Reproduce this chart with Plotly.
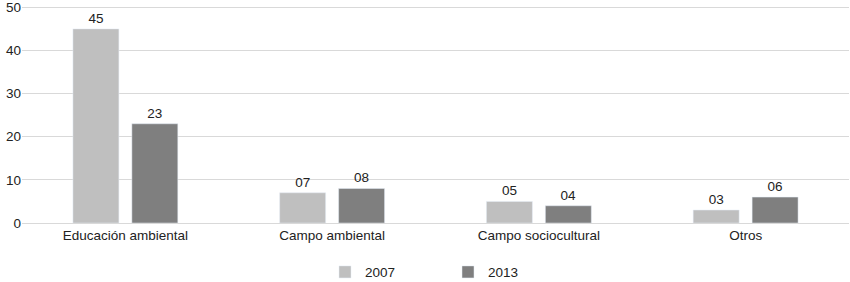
import plotly.graph_objects as go

categories = ["Educación ambiental", "Campo ambiental", "Campo sociocultural", "Otros"]
values_2007 = [45, 7, 5, 3]
values_2013 = [23, 8, 4, 6]
series_names = ["2007", "2013"]
y_ticks = [0, 10, 20, 30, 40, 50]

FONT = "Liberation Sans Narrow, Arial Narrow, Liberation Sans, sans-serif"
TXT = "#222222"
FS = 13.5

fig = go.Figure()
for name, vals, color in [(series_names[0], values_2007, "#bfbfbf"),
                          (series_names[1], values_2013, "#7f7f7f")]:
    fig.add_trace(go.Bar(
        x=categories, y=vals, name=name, marker_color=color,
        text=[f"{v:02d}" for v in vals], textposition="outside",
        textfont=dict(family=FONT, size=FS, color=TXT),
        cliponaxis=False,
    ))

fig.update_layout(
    width=850, height=282,
    margin=dict(l=22, r=1, t=3, b=59, autoexpand=False),
    paper_bgcolor="white", plot_bgcolor="white",
    barmode="group", bargap=0.43, bargroupgap=0.22,
    font=dict(family=FONT, size=FS, color=TXT),
    showlegend=True,
    legend=dict(orientation="h", xref="container", x=325 / 850, xanchor="left",
                yref="container", y=0.035, yanchor="middle",
                entrywidth=78, entrywidthmode="pixels",
                font=dict(family=FONT, size=FS, color=TXT),
                traceorder="normal"),
    xaxis=dict(showgrid=False, showline=True, linecolor="#d9d9d9", linewidth=1,
               tickfont=dict(family=FONT, size=FS, color=TXT)),
    yaxis=dict(range=[0, 51], tickvals=y_ticks, showgrid=True, gridcolor="#d9d9d9",
               gridwidth=1, zeroline=False, ticks="", showline=False,
               tickfont=dict(family=FONT, size=FS, color=TXT)),
)

fig.write_html("out.html", config={"displayModeBar": False},
               post_script="document.body.style.margin='0px';")
